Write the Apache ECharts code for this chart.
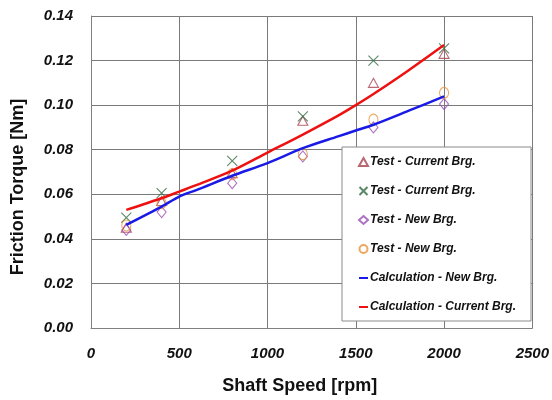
<!DOCTYPE html>
<html>
<head>
<meta charset="utf-8">
<script src="https://cdn.jsdelivr.net/npm/echarts@6/dist/echarts.min.js"></script>
<style>
	html,body{margin:0;padding:0;background:#fff;}
	#chart{width:552px;height:400px;}
</style>
</head>
<body>
<div id="chart"></div>
<script>
	// test points
	var speeds = [200, 400, 800, 1200, 1600, 2000];
	var testCurrentTri = [0.045, 0.057, 0.0695, 0.093, 0.110, 0.123];
	var testCurrentX = [0.0495, 0.0605, 0.075, 0.095, 0.120, 0.1255];
	var testNewDiamond = [0.044, 0.052, 0.065, 0.077, 0.090, 0.1005];
	var testNewCircle = [0.046, 0.056, 0.069, 0.078, 0.0935, 0.1055];
	// calculation curves
	var calcSpeeds = [200, 400, 500, 600, 800, 1000, 1200, 1400, 1500, 1600, 1800, 2000];
	var calcNew = [0.0463, 0.0545, 0.059, 0.062, 0.0683, 0.074, 0.0807, 0.086, 0.0886, 0.0912, 0.0975, 0.1039];
	var calcCurrent = [0.053, 0.0582, 0.0612, 0.0642, 0.0706, 0.0787, 0.0868, 0.0953, 0.100, 0.105, 0.1157, 0.127];
	var legendNames = ['Test - Current Brg.', 'Test - Current Brg. ', 'Test - New Brg.', 'Test - New Brg. ',
		'Calculation - New Brg.', 'Calculation - Current Brg.'];
	var xTicks = [0, 500, 1000, 1500, 2000, 2500];

	var font = "'Liberation Sans', Arial, sans-serif";
	var dash = 'path://M0,0H12V2.6H0Z';

	function pairs(xs, ys){
		return xs.map(function(x, i){ return [x, ys[i]]; });
	}
	function hollow(color){
		return {color: 'rgba(255,255,255,0)', borderColor: color, borderWidth: 1.1};
	}

	var chart = echarts.init(document.getElementById('chart'));
	var option = {
		animation: false,
		grid: {left: 91, right: 19, top: 16, bottom: 72},
		legend: {
			orient: 'vertical',
			left: 342,
			top: 147,
			padding: [9, 15, 8, 16],
			itemGap: 17,
			itemWidth: 9,
			itemHeight: 8,
			backgroundColor: '#fff',
			borderColor: '#8a8a8a',
			borderWidth: 1,
			data: [
				legendNames[0], legendNames[1], legendNames[2], legendNames[3],
				{name: legendNames[4], icon: dash},
				{name: legendNames[5], icon: dash}
			],
			formatter: function(n){ return n.trim(); },
			textStyle: {
				fontFamily: font,
				fontSize: 12,
				fontWeight: 'bold',
				fontStyle: 'italic',
				color: '#111',
				padding: [0, 0, 0, -3]
			}
		},
		xAxis: {
			type: 'value',
			min: xTicks[0],
			max: xTicks[xTicks.length - 1],
			interval: 500,
			name: 'Shaft Speed [rpm]',
			nameLocation: 'middle',
			nameGap: 49,
			nameTextStyle: {fontFamily: font, fontSize: 18, fontWeight: 'bold', color: '#111', padding: [0, 24, 0, 0]},
			axisLine: {show: true, lineStyle: {color: '#808080', width: 1}},
			axisTick: {show: false},
			axisLabel: {
				margin: 18,
				fontFamily: font,
				fontSize: 15,
				fontWeight: 'bold',
				fontStyle: 'italic',
				color: '#111',
				formatter: function(v){ return String(v); }
			},
			splitLine: {show: true, lineStyle: {color: '#7a7a7a', width: 1}}
		},
		yAxis: {
			type: 'value',
			min: 0,
			max: 0.14,
			interval: 0.02,
			name: 'Friction Torque [Nm]',
			nameLocation: 'middle',
			nameGap: 64,
			nameTextStyle: {fontFamily: font, fontSize: 18, fontWeight: 'bold', color: '#111', padding: [0, 30, 0, 0]},
			axisLine: {show: true, lineStyle: {color: '#808080', width: 1}},
			axisTick: {show: false},
			axisLabel: {
				margin: 18,
				fontFamily: font,
				fontSize: 15,
				fontWeight: 'bold',
				fontStyle: 'italic',
				color: '#111',
				formatter: function(v){ return v.toFixed(2); }
			},
			splitLine: {show: true, lineStyle: {color: '#7a7a7a', width: 1}}
		},
		series: [
			{
				name: legendNames[0],
				type: 'scatter',
				symbol: 'triangle',
				symbolSize: [10, 9],
				itemStyle: hollow('#a8424f'),
				data: pairs(speeds, testCurrentTri)
			},
			{
				name: legendNames[1],
				type: 'scatter',
				symbol: 'path://M0,0L10,10M10,0L0,10',
				symbolSize: 10,
				itemStyle: hollow('#2f6b3f'),
				data: pairs(speeds, testCurrentX)
			},
			{
				name: legendNames[2],
				type: 'scatter',
				symbol: 'diamond',
				symbolSize: [9, 11],
				itemStyle: hollow('#9a4db5'),
				data: pairs(speeds, testNewDiamond)
			},
			{
				name: legendNames[3],
				type: 'scatter',
				symbol: 'circle',
				symbolSize: [9, 11],
				itemStyle: hollow('#e8913a'),
				data: pairs(speeds, testNewCircle)
			},
			{
				name: legendNames[4],
				type: 'line',
				smooth: 0.3,
				symbol: 'none',
				lineStyle: {color: '#1a1ae6', width: 2.5},
				itemStyle: {color: '#1a1ae6'},
				data: pairs(calcSpeeds, calcNew)
			},
			{
				name: legendNames[5],
				type: 'line',
				smooth: 0.3,
				symbol: 'none',
				lineStyle: {color: '#ee1111', width: 2.5},
				itemStyle: {color: '#ee1111'},
				data: pairs(calcSpeeds, calcCurrent)
			}
		]
	};
	chart.setOption(option);
</script>
</body>
</html>
